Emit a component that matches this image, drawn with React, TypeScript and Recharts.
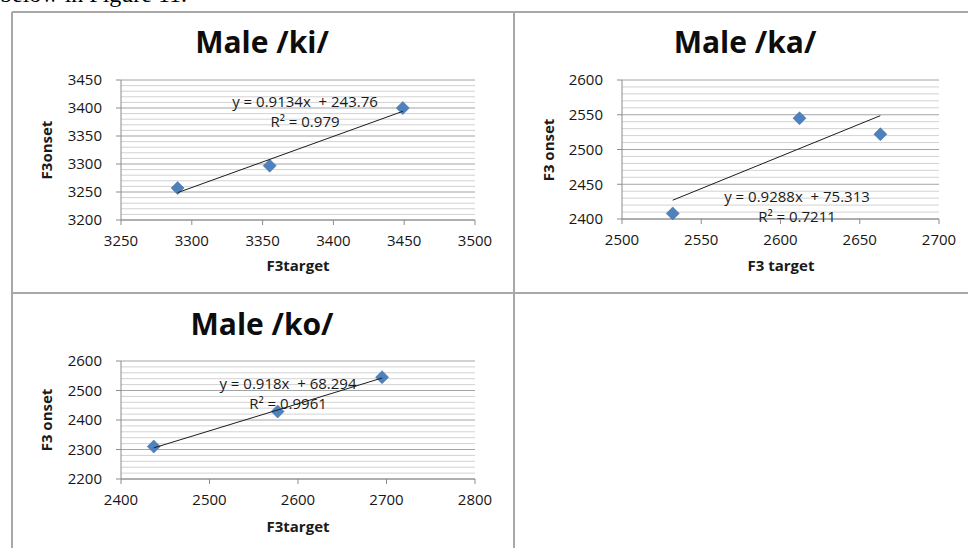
import React from "react";
import { ScatterChart, Scatter, XAxis, YAxis, CartesianGrid } from "recharts";

// values
const kiTarget = [3290, 3355, 3449];
const kiOnset = [3257, 3297, 3400];
const kiXTicks = [3250, 3300, 3350, 3400, 3450, 3500];
const kiYTicks = [3200, 3250, 3300, 3350, 3400, 3450];
const kiFit = { slope: 0.9134, intercept: 243.76 };

const kaTarget = [2532, 2612, 2663];
const kaOnset = [2408, 2545, 2522];
const kaXTicks = [2500, 2550, 2600, 2650, 2700];
const kaYTicks = [2400, 2450, 2500, 2550, 2600];
const kaFit = { slope: 0.9288, intercept: 75.313 };

const koTarget = [2437, 2577, 2695];
const koOnset = [2310, 2429, 2545];
const koXTicks = [2400, 2500, 2600, 2700, 2800];
const koYTicks = [2200, 2300, 2400, 2500, 2600];
const koFit = { slope: 0.918, intercept: 68.294 };

const FONT = "'Open Sans', 'Noto Sans', sans-serif";
const BORDER = "#a8a8a8";

const toPoints = (xs: number[], ys: number[]) => xs.map((x, i) => ({ x, y: ys[i] }));

const fitLine = (xs: number[], fit: { slope: number; intercept: number }) => {
  const lo = Math.min(...xs);
  const hi = Math.max(...xs);
  return [
    { x: lo, y: fit.slope * lo + fit.intercept },
    { x: hi, y: fit.slope * hi + fit.intercept },
  ];
};

// minor gridlines between the major ticks
const minorValues = (ticks: number[], parts: number) => {
  const out: number[] = [];
  for (let i = 0; i < ticks.length - 1; i++) {
    const step = (ticks[i + 1] - ticks[i]) / parts;
    for (let k = 1; k < parts; k++) out.push(ticks[i] + step * k);
  }
  return out;
};

const Diamond = (p: any) => {
  const { cx, cy } = p;
  const r = 6.5;
  return (
    <path
      d={`M${cx},${cy - r}L${cx + r},${cy}L${cx},${cy + r}L${cx - r},${cy}Z`}
      fill="#4f81bd"
      stroke="#4372aa"
      strokeWidth={0.6}
    />
  );
};

const Nothing = () => <g />;

interface PanelProps {
  cell: { x: number; y: number; w: number; h: number };
  plot: { x0: number; x1: number; y0: number; y1: number };
  xs: number[];
  ys: number[];
  xTicks: number[];
  yTicks: number[];
  minorParts: number;
  fit: { slope: number; intercept: number };
}

const Y_W = 60;
const X_H = 30;

function Panel({ cell, plot, xs, ys, xTicks, yTicks, minorParts, fit }: PanelProps) {
  const margin = {
    top: plot.y0 - cell.y,
    right: cell.x + cell.w - plot.x1,
    bottom: cell.y + cell.h - plot.y1 - X_H,
    left: plot.x0 - cell.x - Y_W,
  };
  const tickStyle = { fontSize: 15, fill: "#161616", fontFamily: FONT };
  return (
    <div style={{ position: "absolute", left: cell.x, top: cell.y }}>
      <ScatterChart width={cell.w} height={cell.h} margin={margin}>
        <CartesianGrid
          vertical={false}
          horizontalValues={minorValues(yTicks, minorParts)}
          stroke="#d2d2d2"
        />
        <CartesianGrid vertical={false} horizontalValues={yTicks} stroke="#a4a4a4" />
        <XAxis
          type="number"
          dataKey="x"
          domain={[xTicks[0], xTicks[xTicks.length - 1]]}
          ticks={xTicks}
          interval={0}
          height={X_H}
          tickSize={5}
          tickMargin={10}
          tick={tickStyle}
          stroke="#8c8c8c"
        />
        <YAxis
          type="number"
          dataKey="y"
          domain={[yTicks[0], yTicks[yTicks.length - 1]]}
          ticks={yTicks}
          interval={0}
          width={Y_W}
          tickSize={5}
          tickMargin={14}
          tick={tickStyle}
          stroke="#8c8c8c"
        />
        <Scatter data={toPoints(xs, ys)} shape={Diamond} isAnimationActive={false} />
        <Scatter
          data={fitLine(xs, fit)}
          line={{ stroke: "#1c1c1c", strokeWidth: 1 }}
          shape={Nothing}
          isAnimationActive={false}
        />
      </ScatterChart>
    </div>
  );
}

// text laid over the panels: titles, axis titles, trendline labels
const Title = ({ x, y, children }: any) => (
  <text x={x} y={y} textAnchor="middle" fontFamily={FONT} fontWeight={700} fontSize={30} fill="#0d0d0d">
    {children}
  </text>
);

const AxisTitle = ({ x, y, rotate, children }: any) => (
  <text
    x={x}
    y={y}
    textAnchor="middle"
    fontFamily={FONT}
    fontWeight={700}
    fontSize={15}
    fill="#1a1a1a"
    transform={rotate ? `rotate(-90 ${x} ${y})` : undefined}
  >
    {children}
  </text>
);

const FitText = ({ x, y, children }: any) => (
  <text x={x} y={y} textAnchor="middle" fontFamily={FONT} fontSize={15} fill="#1a1a1a" style={{ whiteSpace: "pre" }}>
    {children}
  </text>
);

export default function App() {
  return (
    <div
      style={{
        position: "fixed",
        left: 0,
        top: 0,
        width: 968,
        height: 548,
        background: "#fff",
        overflow: "hidden",
      }}
    >
      <Panel
        cell={{ x: 12, y: 12, w: 502, h: 281 }}
        plot={{ x0: 121, x1: 475, y0: 80, y1: 220 }}
        xs={kiTarget}
        ys={kiOnset}
        xTicks={kiXTicks}
        yTicks={kiYTicks}
        minorParts={5}
        fit={kiFit}
      />
      <Panel
        cell={{ x: 514, y: 12, w: 454, h: 281 }}
        plot={{ x0: 622, x1: 939, y0: 80, y1: 219 }}
        xs={kaTarget}
        ys={kaOnset}
        xTicks={kaXTicks}
        yTicks={kaYTicks}
        minorParts={5}
        fit={kaFit}
      />
      <Panel
        cell={{ x: 12, y: 293, w: 502, h: 255 }}
        plot={{ x0: 121, x1: 475, y0: 361, y1: 479 }}
        xs={koTarget}
        ys={koOnset}
        xTicks={koXTicks}
        yTicks={koYTicks}
        minorParts={5}
        fit={koFit}
      />
      <svg
        width={968}
        height={548}
        style={{ position: "absolute", left: 0, top: 0, pointerEvents: "none" }}
      >
        {/* page text above the table, cut off by the top edge as in the scan */}
        <text x={0} y={2} fontFamily="'Liberation Serif', serif" fontSize={24} fill="#000">
          below in Figure 11.
        </text>

        <line x1={12} y1={12} x2={968} y2={12} stroke={BORDER} strokeWidth={2} />
        <line x1={12} y1={293} x2={968} y2={293} stroke={BORDER} strokeWidth={2} />
        <line x1={12} y1={12} x2={12} y2={548} stroke={BORDER} strokeWidth={2} />
        <line x1={514} y1={12} x2={514} y2={548} stroke={BORDER} strokeWidth={2} />

        <Title x={262} y={53}>Male /ki/</Title>
        <AxisTitle x={298} y={271}>F3target</AxisTitle>
        <AxisTitle x={52} y={150} rotate>F3onset</AxisTitle>
        <FitText x={305} y={107}>{"y = 0.9134x  + 243.76"}</FitText>
        <FitText x={305} y={127}>R² = 0.979</FitText>

        <Title x={745} y={53}>Male /ka/</Title>
        <AxisTitle x={781} y={271}>F3 target</AxisTitle>
        <AxisTitle x={554} y={150} rotate>F3 onset</AxisTitle>
        <FitText x={797} y={202}>{"y = 0.9288x  + 75.313"}</FitText>
        <FitText x={797} y={222}>R² = 0.7211</FitText>

        <Title x={262} y={335}>Male /ko/</Title>
        <AxisTitle x={298} y={532}>F3target</AxisTitle>
        <AxisTitle x={52} y={420} rotate>F3 onset</AxisTitle>
        <FitText x={288} y={389}>{"y = 0.918x  + 68.294"}</FitText>
        <FitText x={288} y={409}>R² = 0.9961</FitText>
      </svg>
    </div>
  );
}
